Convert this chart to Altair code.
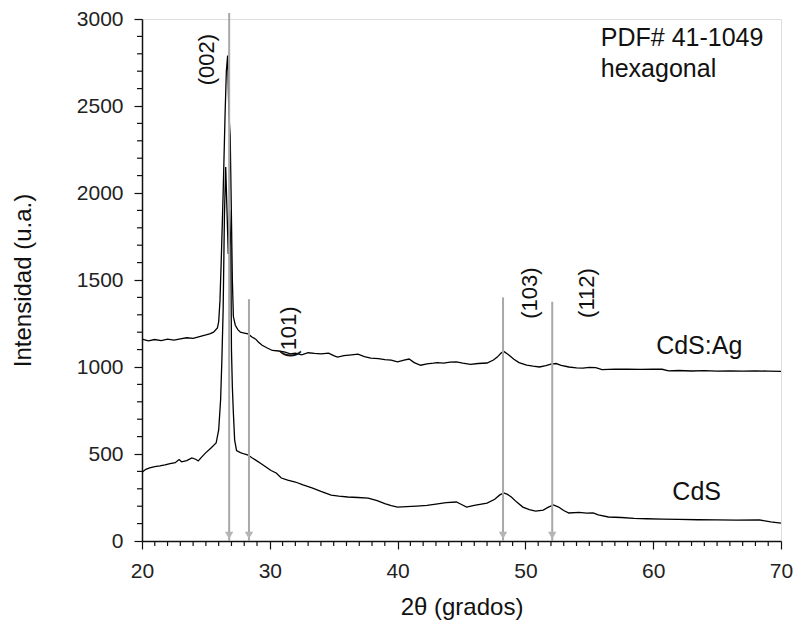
import altair as alt
import pandas as pd

# ---------------- data ----------------
cdsag_x = [20.0, 20.5, 21.0, 21.5, 22.0, 22.5, 23.0, 23.5, 24.0, 24.5, 25.0, 25.3, 25.6, 25.9,
           26.0, 26.1, 26.2, 26.35, 26.5, 26.6, 26.7, 26.8, 26.9, 27.0, 27.07, 27.15, 27.3,
           27.5, 27.7, 28.0, 28.3, 28.6, 28.9, 29.1, 29.4, 29.8, 30.2, 30.7, 31.2, 31.6, 32.0,
           32.5, 33.0, 33.5, 34.0, 34.6, 35.0, 35.3, 35.8, 36.4, 36.9, 37.4, 37.9, 38.5, 39.0,
           39.5, 40.0, 40.5, 40.9, 41.3, 41.8, 42.3, 42.8, 43.1, 43.6, 44.1, 44.6, 45.1, 45.7,
           46.3, 47.0, 47.5, 47.8, 48.1, 48.3, 48.6, 48.8, 49.1, 49.5, 50.1, 50.6, 51.1, 51.6,
           52.0, 52.4, 52.8, 53.4, 54.0, 54.5, 55.0, 55.5, 56.0, 57.0, 58.0, 59.0, 60.0, 60.7,
           61.2, 62.0, 63.0, 64.0, 65.0, 66.0, 67.0, 68.0, 69.0, 70.0]
cdsag_y = [1160, 1150, 1158, 1152, 1160, 1155, 1162, 1168, 1165, 1175, 1184, 1190, 1200, 1225,
           1260, 1380, 1610, 2000, 2450, 2700, 2790, 2450, 2330, 1850, 1500, 1290, 1240,
           1215, 1200, 1195, 1190, 1172, 1160, 1144, 1125, 1109, 1095, 1092, 1085, 1075, 1080,
           1070, 1082, 1078, 1075, 1080, 1065, 1057, 1065, 1070, 1074, 1060, 1051, 1048, 1042,
           1040, 1030, 1040, 1046, 1025, 1010, 1018, 1022, 1025, 1022, 1028, 1029, 1022, 1015,
           1020, 1023, 1040, 1057, 1080, 1090, 1075, 1063, 1045, 1025, 1011, 1005, 1000, 1008,
           1017, 1020, 1010, 1000, 995, 994, 998, 996, 985, 988, 987, 986, 988, 987,
           978, 980, 977, 979, 976, 978, 976, 978, 976, 975]

cds_x = [20.0, 20.3, 20.6, 21.0, 21.4, 21.8, 22.2, 22.6, 22.9, 23.1, 23.5, 23.9, 24.2, 24.4,
         24.7, 25.0, 25.4, 25.8, 26.0, 26.15, 26.25, 26.35, 26.45, 26.55, 26.65, 26.75, 26.85,
         26.95, 27.0, 27.07, 27.15, 27.25, 27.4, 27.7, 28.0, 28.3, 28.6, 28.9, 29.3, 29.7,
         30.1, 30.5, 30.9, 31.4, 32.0, 32.6, 33.3, 34.0, 34.8, 35.4, 36.1, 36.9, 37.7, 38.4,
         39.0, 39.5, 40.0, 40.7, 41.5, 42.3, 43.0, 43.8, 44.6, 45.0, 45.4, 46.0, 47.0, 47.6,
         48.0, 48.3, 48.6, 48.9, 49.3, 49.8, 50.3, 50.8, 51.4, 51.8, 52.2, 52.6, 53.0, 53.4,
         54.2, 54.8, 55.3, 55.7, 56.5, 57.5, 58.5, 59.5, 60.7, 62.0, 63.5, 65.0, 66.5, 68.3,
         69.2, 70.0]
cds_y = [395, 412, 420, 428, 432, 438, 445, 450, 468, 455, 462, 477, 470, 460,
         485, 508, 535, 563, 638, 810, 1040, 1330, 1870, 2150, 1900, 1650, 1900,
         1700, 1100, 885, 736, 580, 520, 508, 500, 494, 478, 465, 445, 425,
         405, 391, 362, 350, 339, 322, 305, 285, 264, 258, 253, 250, 247, 232,
         215, 203, 195, 198, 201, 205, 212, 220, 224, 210, 195, 205, 218, 240,
         265, 276, 268, 253, 225, 195, 180, 172, 178, 195, 207, 195, 175, 161,
         165, 160, 162, 150, 138, 135, 130, 128, 126, 124, 122, 121, 120, 121,
         110, 103]

ref_x = [26.82, 28.37, 48.25, 52.1]
ref_top = [3035, 1390, 1400, 1375]
ref_head = [32, 32, 32, 32]

hkl_labels = ["(002)", "(101)", "(103)", "(112)"]
hkl_x = [25.07, 31.5, 50.35, 54.85]
hkl_y = [2767, 1201, 1425, 1425]

sample_labels = ["CdS:Ag", "CdS"]
sample_x = [63.6, 63.4]
sample_y = [1120, 284]

info_labels = ["PDF# 41-1049", "hexagonal"]
info_x = [55.9, 55.9]
info_y = [2891, 2713]

x_major = list(range(20, 71, 10))
x_minor = [v for v in range(20, 71, 1) if v % 10 != 0]
y_major = list(range(0, 3001, 500))
y_minor = [v for v in range(0, 3001, 100) if v % 500 != 0]

X_MIN, X_MAX = 20, 70
Y_MIN, Y_MAX = 0, 3000
PLOT_W, PLOT_H = 639, 522
MINOR_LEN = 5

# ---------------- tables ----------------
curves = pd.concat([
    pd.DataFrame({"x": cdsag_x, "y": cdsag_y, "s": "CdS:Ag"}),
    pd.DataFrame({"x": cds_x, "y": cds_y, "s": "CdS"}),
])
refs = pd.DataFrame({"x": ref_x, "top": ref_top, "head": ref_head, "bottom": 0})
hkl = pd.DataFrame({"t": hkl_labels, "x": hkl_x, "y": hkl_y})
samples = pd.DataFrame({"t": sample_labels, "x": sample_x, "y": sample_y})
info = pd.DataFrame({"t": info_labels, "x": info_x, "y": info_y})
xminor_df = pd.DataFrame({"x": x_minor, "y0": Y_MIN})
yminor_df = pd.DataFrame({"y": y_minor, "x0": X_MIN})

FONT = "Liberation Sans"
xs = alt.Scale(domain=[X_MIN, X_MAX], nice=False, zero=False)
ys = alt.Scale(domain=[Y_MIN, Y_MAX], nice=False)

x_axis = alt.Axis(
    orient="bottom", values=x_major, grid=False, title="2θ (grados)", tickSize=8,
    labelFlush=False, labelFont=FONT, labelFontSize=21, labelColor="#222", labelPadding=11,
    titleFont=FONT, titleFontSize=24, titleFontWeight="normal", titleColor="#111",
    titlePadding=14, domainColor="#111", domainWidth=1.5, tickColor="#111", tickWidth=1.2,
    format="d")

y_axis = alt.Axis(
    orient="left", values=y_major, grid=False, title="Intensidad (u.a.)", tickSize=8,
    labelFlush=False, labelFont=FONT, labelFontSize=21, labelColor="#222", labelPadding=11,
    titleFont=FONT, titleFontSize=24, titleFontWeight="normal", titleColor="#111",
    titlePadding=41, domainColor="#111", domainWidth=1.5, tickColor="#111", tickWidth=1.2,
    format="d")

lines = alt.Chart(curves).mark_line(color="black", strokeWidth=1.3).encode(
    x=alt.X("x:Q", scale=xs, axis=x_axis),
    y=alt.Y("y:Q", scale=ys, axis=y_axis),
    detail="s:N",
)

# minor ticks (outward), positioned by the shared scales
xminor = alt.Chart(xminor_df).mark_rule(color="#111", strokeWidth=1.2,
                                        y2Offset=MINOR_LEN).encode(
    x=alt.X("x:Q", scale=xs),
    y=alt.Y("y0:Q", scale=ys),
    y2="y0:Q",
)
yminor = alt.Chart(yminor_df).mark_rule(color="#111", strokeWidth=1.2,
                                        x2Offset=-MINOR_LEN).encode(
    y=alt.Y("y:Q", scale=ys),
    x=alt.X("x0:Q", scale=xs),
    x2="x0:Q",
)

rules = alt.Chart(refs).mark_rule(color="#a8a8a8", strokeWidth=2).encode(
    x=alt.X("x:Q", scale=xs),
    y=alt.Y("top:Q", scale=ys),
    y2="bottom:Q",
)

heads = alt.Chart(refs).mark_point(shape="triangle-down", filled=True, color="#b5b5b5",
                                   size=70, opacity=1).encode(
    x=alt.X("x:Q", scale=xs),
    y=alt.Y("head:Q", scale=ys),
)

hkl_text = alt.Chart(hkl).mark_text(font=FONT, fontSize=22, angle=270, color="#111",
                                    align="center", baseline="middle").encode(
    x=alt.X("x:Q", scale=xs),
    y=alt.Y("y:Q", scale=ys),
    text="t:N",
)

sample_text = alt.Chart(samples).mark_text(font=FONT, fontSize=25, color="#111",
                                           align="center", baseline="middle").encode(
    x=alt.X("x:Q", scale=xs),
    y=alt.Y("y:Q", scale=ys),
    text="t:N",
)

info_text = alt.Chart(info).mark_text(font=FONT, fontSize=25, color="#111",
                                      align="left", baseline="middle").encode(
    x=alt.X("x:Q", scale=xs),
    y=alt.Y("y:Q", scale=ys),
    text="t:N",
)

chart = alt.layer(lines, xminor, yminor, rules, heads, hkl_text, sample_text, info_text).properties(
    width=PLOT_W, height=PLOT_H,
    autosize=alt.AutoSizeParams(type="none"),
    padding={"left": 134, "top": 11, "right": 12, "bottom": 80},
).configure_view(stroke="#333", strokeWidth=1.5).configure(background="white")

chart.save("out.html", embed_options={"renderer": "svg", "actions": False})
